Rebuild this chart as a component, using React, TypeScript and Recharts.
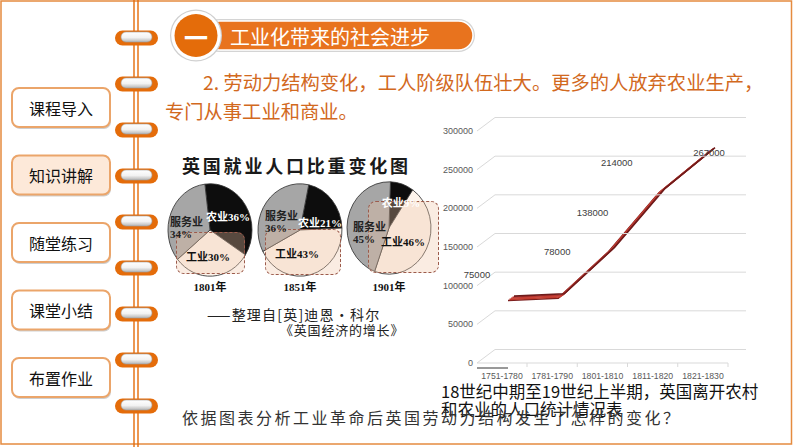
import React from "react";
import { LineChart, Line, XAxis, YAxis, PieChart, Pie, Cell } from "recharts";

// line chart: people leaving farms, per period
const periods = ["1751-1780", "1781-1790", "1801-1810", "1811-1820", "1821-1830"];
const ruralLeavers = [75000, 78000, 138000, 214000, 267000];
const valueTicks = [0, 50000, 100000, 150000, 200000, 250000, 300000];

// pies: employment share by sector
const sectors = ["农业", "工业", "服务业"];
const years = ["1801年", "1851年", "1901年"];
const shares1801 = [36, 30, 34];
const shares1851 = [21, 43, 36];
const shares1901 = [9, 46, 45];

const navItems = ["课程导入", "知识讲解", "随堂练习", "课堂小结", "布置作业"];

const ORANGE = "#e46c0a";
const SANS = '"Noto Sans CJK SC", "Noto Sans", sans-serif';
const NUM = '"Liberation Sans", Arial, sans-serif';
const SERIF_NUM = '"Liberation Serif", "Noto Sans CJK SC", serif';

const lineData = periods.map((period, i) => ({ period, value: ruralLeavers[i] }));

// fake 3d: wall depth and floor width in px
const DEPTH_X = 18;
const DEPTH_Y = 13.5;
const FLOOR_W = 251;
const HALF_BAND = 25;

// ribbon layers, shifted back into the depth
const RIBBON = [
  { dx: 6, dy: 4.5, color: "#7a1e1e" },
  { dx: 7.5, dy: 5.6, color: "#c0392b" },
  { dx: 9, dy: 6.7, color: "#c8443a" },
  { dx: 10.5, dy: 7.8, color: "#b8352d" },
  { dx: 12, dy: 8.9, color: "#6e1b1b" },
];

// excel 3d data labels sit oddly around the points
const LABEL_SHIFT = [
  [-25, -31],
  [5, -51],
  [-10, -44],
  [-36, -35.5],
  [6, -4.5],
];

function WallTick(props: any) {
  const { x, y, payload } = props;
  const bx = x + DEPTH_X;
  const by = y - DEPTH_Y;
  return (
    <g>
      <text x={x - 4} y={y} textAnchor="end" dominantBaseline="central" fontSize={9} fontFamily={NUM} fill="#595959">
        {payload.value}
      </text>
      <line x1={x} y1={y} x2={bx} y2={by} stroke="#d9d9d9" />
      <line x1={bx} y1={by} x2={bx + FLOOR_W} y2={by} stroke="#d9d9d9" />
      {payload.value === 0 && <line x1={x} y1={y} x2={x + FLOOR_W} y2={y} stroke="#d9d9d9" />}
    </g>
  );
}

function PeriodTick(props: any) {
  const { x, y, payload, index } = props;
  return (
    <g>
      <text x={x} y={y + 13} textAnchor="middle" dominantBaseline="central" fontSize={8.7} fontFamily={NUM} fill="#595959">
        {payload.value}
      </text>
      <line x1={x + HALF_BAND} y1={y} x2={x + HALF_BAND} y2={y + 4} stroke="#d9d9d9" />
      {index === 0 && <line x1={x - HALF_BAND} y1={y + 5} x2={x + 6} y2={y + 5} stroke="#333" />}
    </g>
  );
}

function renderValueLabel(p: any) {
  const [ox, oy] = LABEL_SHIFT[p.index] || [0, -10];
  return (
    <text
      key={`lbl-${p.index}`}
      x={p.x + ox}
      y={p.y + oy}
      textAnchor="middle"
      dominantBaseline="central"
      fontSize={9.5}
      fontFamily={NUM}
      fill="#404040"
    >
      {p.value}
    </text>
  );
}

function RuralChart() {
  return (
    <div style={{ position: "absolute", left: 400, top: 90 }}>
      <LineChart width={380} height={300} data={lineData} margin={{ top: 21, right: 32, bottom: 7, left: 17 }}>
        <XAxis
          dataKey="period"
          height={20}
          interval={0}
          padding={{ left: HALF_BAND, right: HALF_BAND + 20 }}
          axisLine={false}
          tickLine={false}
          tickSize={0}
          tickMargin={0}
          tick={<PeriodTick />}
        />
        <YAxis
          width={60}
          type="number"
          domain={[0, 300000]}
          ticks={valueTicks}
          interval={0}
          padding={{ top: 20, bottom: 0 }}
          axisLine={false}
          tickLine={false}
          tickSize={0}
          tickMargin={0}
          tick={<WallTick />}
        />
        {RIBBON.map((r, k) => (
          <XAxis
            key={`rx${k}`}
            xAxisId={`r${k}`}
            dataKey="period"
            hide
            padding={{ left: HALF_BAND + r.dx, right: HALF_BAND + 20 - r.dx }}
          />
        ))}
        {RIBBON.map((r, k) => (
          <YAxis
            key={`ry${k}`}
            yAxisId={`r${k}`}
            type="number"
            domain={[0, 300000]}
            hide
            padding={{ top: 20 - r.dy, bottom: r.dy }}
          />
        ))}
        {RIBBON.map((r, k) => (
          <Line
            key={`rl${k}`}
            xAxisId={`r${k}`}
            yAxisId={`r${k}`}
            dataKey="value"
            type="linear"
            stroke={r.color}
            strokeWidth={1.6}
            dot={false}
            activeDot={false}
            isAnimationActive={false}
          />
        ))}
        <Line
          dataKey="value"
          type="linear"
          stroke="none"
          dot={false}
          activeDot={false}
          label={renderValueLabel}
          isAnimationActive={false}
        />
      </LineChart>
    </div>
  );
}

const PIE_COLORS = ["#0d0d0d", "#fdf4ec", "#a6a6a6"];

const pies = [
  { shares: shares1801, cx: 210, cy: 230, start: 97, box: [176, 232, 69, 42] },
  { shares: shares1851, cx: 300, cy: 230, start: 78, box: [265, 229, 76, 46] },
  { shares: shares1901, cx: 389, cy: 228, start: 88, box: [368, 201, 71, 72] },
];

// label anchors per pie: [agri, industry, service]
const pieLabelPos = [
  { agri: [228, 217], ind: [208, 257], serv: [170, 216] },
  { agri: [320, 223], ind: [297, 254], serv: [265, 210] },
  { agri: [401, 203], ind: [403, 242], serv: [353, 221] },
];

function lblStyle(cx: number, cy: number, color: string): React.CSSProperties {
  return {
    position: "absolute",
    left: cx - 40,
    top: cy - 7,
    width: 80,
    textAlign: "center",
    fontFamily: SERIF_NUM,
    fontWeight: 700,
    fontSize: 11,
    lineHeight: "14px",
    color,
    whiteSpace: "nowrap",
  };
}

function SectorPies() {
  return (
    <>
      <div
        style={{
          position: "absolute",
          left: 182,
          top: 152,
          fontFamily: SANS,
          fontWeight: 700,
          fontSize: 18,
          letterSpacing: 2.8,
          lineHeight: "26px",
          color: "#1a1a1a",
          whiteSpace: "nowrap",
        }}
      >
        英国就业人口比重变化图
      </div>
      {pies.map((p, i) => {
        const data = sectors.map((name, j) => ({ name, value: p.shares[j] }));
        const pos = pieLabelPos[i];
        const [bx, by, bw, bh] = p.box;
        return (
          <React.Fragment key={i}>
            <div
              style={{
                position: "absolute",
                left: p.cx - 50,
                top: p.cy - 50,
                width: 100,
                height: 100,
                transform: "scaleY(1.1)",
              }}
            >
              <PieChart width={100} height={100} margin={{ top: 0, right: 0, bottom: 0, left: 0 }}>
                <Pie
                  data={data}
                  dataKey="value"
                  nameKey="name"
                  cx={50}
                  cy={50}
                  outerRadius={42}
                  startAngle={p.start}
                  endAngle={p.start - 360}
                  stroke="#333"
                  strokeWidth={0.8}
                  isAnimationActive={false}
                >
                  {data.map((d, j) => (
                    <Cell key={j} fill={PIE_COLORS[j]} />
                  ))}
                </Pie>
              </PieChart>
            </div>
            <div
              style={{
                position: "absolute",
                left: bx,
                top: by,
                width: bw,
                height: bh,
                boxSizing: "border-box",
                border: "1px dashed #9c5b4c",
                borderRadius: 8,
                background: "rgba(240, 196, 168, 0.33)",
              }}
            />
            <div style={lblStyle(pos.agri[0], pos.agri[1], "#fff")}>
              {sectors[0]}
              {p.shares[0]}%
            </div>
            <div style={lblStyle(pos.ind[0], pos.ind[1], "#111")}>
              {sectors[1]}
              {p.shares[1]}%
            </div>
            <div
              style={{
                position: "absolute",
                left: pos.serv[0],
                top: pos.serv[1],
                fontFamily: SERIF_NUM,
                fontWeight: 700,
                fontSize: 11,
                lineHeight: "12px",
                color: "#222",
                whiteSpace: "nowrap",
              }}
            >
              {sectors[2]}
              <br />
              {p.shares[2]}%
            </div>
            <div style={lblStyle(p.cx, 287, "#111")}>{years[i]}</div>
          </React.Fragment>
        );
      })}
      <div
        style={{
          position: "absolute",
          left: 207,
          top: 306,
          fontFamily: SANS,
          fontSize: 14,
          letterSpacing: 1.2,
          lineHeight: "16px",
          color: "#222",
          whiteSpace: "nowrap",
        }}
      >
        ——整理自[英]迪恩・科尔
      </div>
      <div
        style={{
          position: "absolute",
          left: 280,
          top: 322,
          fontFamily: SANS,
          fontSize: 13,
          letterSpacing: 0.8,
          lineHeight: "16px",
          color: "#222",
          whiteSpace: "nowrap",
        }}
      >
        《英国经济的增长》
      </div>
    </>
  );
}

function Notebook() {
  return (
    <svg width={794} height={447} style={{ position: "absolute", left: 0, top: 0 }}>
      <defs>
        <linearGradient id="ringG" x1="0" y1="0" x2="0" y2="1">
          <stop offset="0" stopColor="#ffffff" />
          <stop offset="0.55" stopColor="#f2f2f2" />
          <stop offset="1" stopColor="#b5b5b5" />
        </linearGradient>
      </defs>
      <rect x={1} y={1} width={790.5} height={443} fill="none" stroke="#e58b3f" strokeWidth={1.5} />
      <line x1={134} y1={0} x2={134} y2={447} stroke={ORANGE} strokeWidth={1.4} />
      <line x1={138} y1={0} x2={138} y2={447} stroke={ORANGE} strokeWidth={1.4} />
      {Array.from({ length: 9 }).map((_, i) => {
        const y = 38 + i * 46;
        return (
          <g key={i}>
            <rect x={115} y={y - 7.5} width={43} height={15} rx={7.5} fill={ORANGE} />
            <rect x={121} y={y - 6} width={31} height={10} rx={5} fill="url(#ringG)" stroke="#a0a0a0" strokeWidth={0.6} />
          </g>
        );
      })}
      {navItems.map((t, i) => {
        const y = 88 + i * 67.5;
        return (
          <g key={t}>
            <rect x={13} y={y + 2} width={98} height={39} rx={7} fill="#cfcfcf" />
            <rect
              x={12}
              y={y}
              width={98}
              height={39}
              rx={7}
              fill={i === 1 ? "#fde9d9" : "#ffffff"}
              stroke="#eba56a"
              strokeWidth={2}
            />
            <text x={61} y={y + 19.5} textAnchor="middle" dominantBaseline="central" fontSize={16} fontFamily={SANS} fill="#111">
              {t}
            </text>
          </g>
        );
      })}
      <rect x={203} y={19} width={272} height={33} rx={16.5} fill="#d4d4d4" />
      <rect x={205} y={21} width={268} height={29} rx={14.5} fill="#e8731e" stroke="#ffffff" strokeWidth={1.5} />
      <circle cx={196} cy={35.5} r={26} fill="#cfcfcf" />
      <circle cx={196} cy={35.5} r={24.8} fill="#ffffff" />
      <circle cx={196} cy={35.5} r={21.5} fill={ORANGE} />
      <text x={196} y={36} textAnchor="middle" dominantBaseline="central" fontSize={24} fontWeight={700} fontFamily={SANS} fill="#fff">
        一
      </text>
      <text x={230} y={36.5} dominantBaseline="central" fontSize={20} fontFamily={SANS} fill="#fff">
        工业化带来的社会进步
      </text>
    </svg>
  );
}

export default function App() {
  return (
    <div
      style={{
        position: "absolute",
        left: 0,
        top: 0,
        width: 794,
        height: 447,
        overflow: "hidden",
        background: "#ffffff",
        fontFamily: SANS,
      }}
    >
      <Notebook />
      <div
        style={{
          position: "absolute",
          left: 165,
          top: 68,
          width: 608,
          fontSize: 19.3,
          lineHeight: "29px",
          color: "#d2691e",
          textIndent: 38,
          fontFamily: SANS,
        }}
      >
        2. 劳动力结构变化，工人阶级队伍壮大。更多的人放弃农业生产，专门从事工业和商业。
      </div>
      <SectorPies />
      <RuralChart />
      <div
        style={{
          position: "absolute",
          left: 441,
          top: 382,
          fontSize: 16.5,
          lineHeight: "18px",
          color: "#111",
          whiteSpace: "nowrap",
        }}
      >
        18世纪中期至19世纪上半期，英国离开农村
        <br />
        和农业的人口统计情况表
      </div>
      <div
        style={{
          position: "absolute",
          left: 182,
          top: 407,
          fontSize: 16,
          letterSpacing: 2.5,
          lineHeight: "20px",
          color: "#333",
          whiteSpace: "nowrap",
        }}
      >
        依据图表分析工业革命后英国劳动力结构发生了怎样的变化？
      </div>
    </div>
  );
}
